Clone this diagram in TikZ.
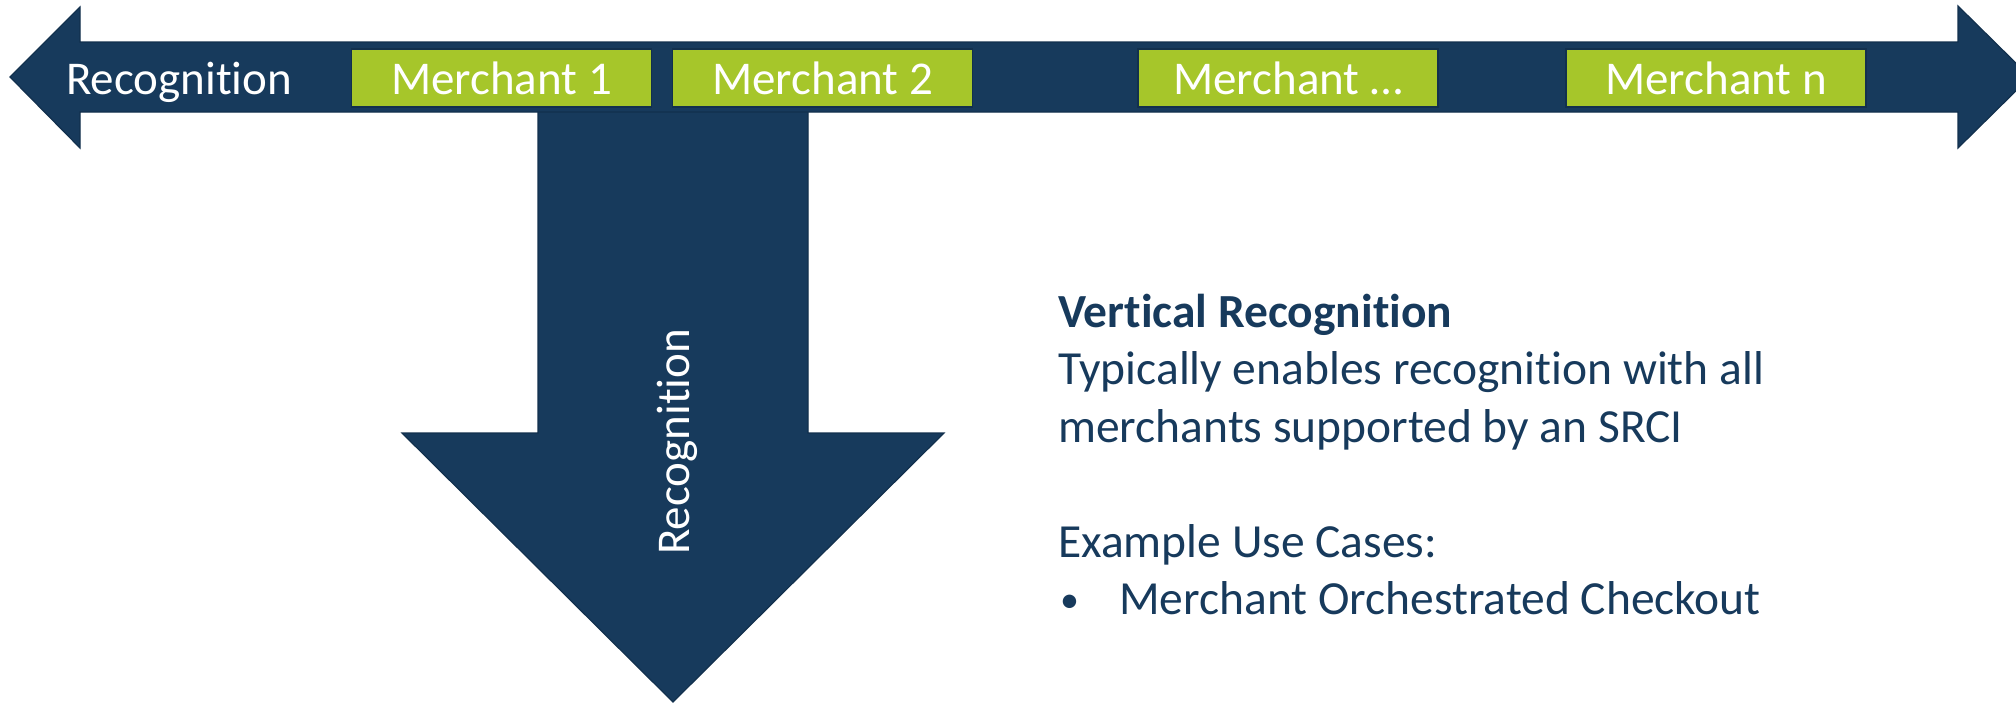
\documentclass[tikz,border=0pt]{standalone}
\usepackage{fontspec}
\setmainfont{Carlito}[Ligatures=NoCommon]
\definecolor{navy}{HTML}{173A5C}
\definecolor{navyedge}{HTML}{12304D}
\definecolor{lime}{HTML}{A6C62A}
\begin{document}
\begin{tikzpicture}[x=1pt,y=-1pt,
  arrowshape/.style={fill=navy,draw=navyedge,line width=1.2pt,line join=miter},
  merchbox/.style={fill=lime,draw=navyedge,line width=1.5pt,minimum width=300pt,minimum height=58pt,inner sep=0pt,text=white,font=\fontsize{47}{56}\selectfont},
  whitelabel/.style={text=white,inner sep=0pt,font=\fontsize{47}{56}\selectfont},
  bodytext/.style={text=navy,inner sep=0pt,align=left,font=\fontsize{47.5}{57.5}\selectfont}]
\useasboundingbox (0,0) rectangle (2016,702);
% vertical arrow
\path[arrowshape] (538,105) -- (808,105) -- (808,433) -- (944,433) -- (673,702) -- (402,433) -- (538,433) -- cycle;
% horizontal double arrow
\path[arrowshape] (10,77) -- (80,7) -- (80,42) -- (1958,42) -- (1958,6) -- (2030,77) -- (1958,148) -- (1958,112) -- (80,112) -- (80,148) -- cycle;
% labels
\node[whitelabel,anchor=base west] (hrec) at (66,94) {Recognition};
\node[merchbox] (m1) at (501.5,78) {Merchant 1};
\node[merchbox] (m2) at (822.5,78) {Merchant 2};
\node[merchbox] (m3) at (1288,78) {Merchant \dots};
\node[merchbox] (mn) at (1716,78) {Merchant n};
\node[whitelabel,rotate=90,anchor=base west] (vrec) at (689,555) {Recognition};
\node[bodytext,anchor=base west] (desc) at (1058,614.5) {\textbf{Vertical Recognition}\\
Typically enables recognition with all\\
merchants supported by an SRCI\\[57.5pt]
Example Use Cases:\\
\makebox[61pt][l]{\hspace{2pt}\raisebox{2pt}{\fontsize{38}{40}\selectfont•}}Merchant Orchestrated Checkout};
\end{tikzpicture}
\end{document}
